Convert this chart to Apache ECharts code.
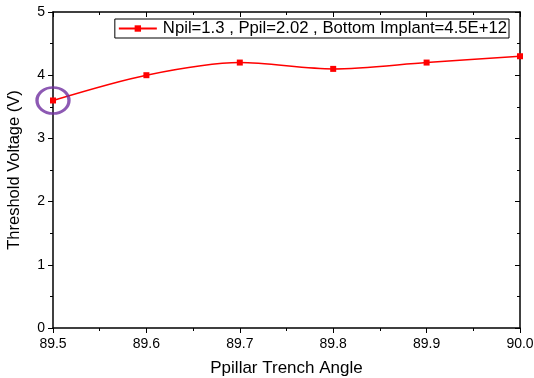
<!DOCTYPE html>
<html>
<head>
<meta charset="utf-8">
<script src="https://cdn.jsdelivr.net/npm/echarts@6/dist/echarts.min.js"></script>
<style>
  html, body { margin: 0; padding: 0; background: #fff; }
  #chart { width: 534px; height: 378px; }
</style>
</head>
<body>
<div id="chart"></div>
<script>
var angles = [89.5, 89.6, 89.7, 89.8, 89.9, 90.0];
var voltages = [3.6, 4.0, 4.2, 4.1, 4.2, 4.3];
var seriesName = 'Npil=1.3 , Ppil=2.02 , Bottom Implant=4.5E+12';
var highlightPoint = [89.5, 3.6];

var dom = document.getElementById('chart');
var myChart = echarts.init(dom, null, { renderer: 'canvas' });

var font = 'Liberation Sans, Arial, sans-serif';

var option = {
  animation: false,
  textStyle: { fontFamily: font },
  grid: { left: 53, right: 14, top: 12, bottom: 50, outerBoundsMode: 'none', containLabel: false },
  legend: {
    data: [seriesName],
    top: 19,
    right: 25,
    itemWidth: 38,
    itemHeight: 8,
    itemGap: 6,
    padding: [1, 2, 1, 3],
    borderColor: '#000',
    borderWidth: 1,
    textStyle: { fontFamily: font, fontSize: 16.7, color: '#000', padding: [0, 0, 0, 1] }
  },
  xAxis: [
    {
      type: 'value',
      min: 89.5,
      max: 90.0,
      interval: 0.1,
      name: 'Ppillar Trench Angle',
      nameLocation: 'middle',
      nameGap: 32,
      nameTextStyle: { fontSize: 17, color: '#000' },
      axisLine: { onZero: false, lineStyle: { color: '#000', width: 1.5 } },
      axisTick: { inside: false, length: 5, lineStyle: { color: '#000' } },
      minorTick: { show: true, splitNumber: 2, length: 3, lineStyle: { color: '#000' } },
      axisLabel: {
        color: '#000', fontSize: 14, margin: 9,
        formatter: function (v) { return v.toFixed(1); }
      },
      splitLine: { show: false }
    },
    {
      type: 'value',
      position: 'top',
      min: 89.5,
      max: 90.0,
      interval: 0.1,
      axisLine: { onZero: false, lineStyle: { color: '#000', width: 1.5 } },
      axisTick: { inside: true, length: 5, lineStyle: { color: '#000' } },
      minorTick: { show: true, splitNumber: 2, length: 3, lineStyle: { color: '#000' } },
      axisLabel: { show: false },
      splitLine: { show: false }
    }
  ],
  yAxis: [
    {
      type: 'value',
      min: 0,
      max: 5,
      interval: 1,
      name: 'Threshold Voltage (V)',
      nameLocation: 'middle',
      nameGap: 30,
      nameTextStyle: { fontSize: 16.5, color: '#000' },
      axisLine: { show: true, onZero: false, lineStyle: { color: '#000', width: 1.5 } },
      axisTick: { show: true, inside: false, length: 5, lineStyle: { color: '#000' } },
      minorTick: { show: true, splitNumber: 2, length: 3, lineStyle: { color: '#000' } },
      axisLabel: { color: '#000', fontSize: 14, margin: 8 },
      splitLine: { show: false }
    },
    {
      type: 'value',
      position: 'right',
      min: 0,
      max: 5,
      interval: 1,
      axisLine: { show: true, onZero: false, lineStyle: { color: '#000', width: 1.5 } },
      axisTick: { show: true, inside: true, length: 5, lineStyle: { color: '#000' } },
      minorTick: { show: true, splitNumber: 2, length: 3, lineStyle: { color: '#000' } },
      axisLabel: { show: false },
      splitLine: { show: false }
    }
  ],
  series: [
    {
      name: seriesName,
      type: 'line',
      smooth: 0.3,
      symbol: 'rect',
      symbolSize: 6,
      clip: false,
      color: '#ff0000',
      lineStyle: { color: '#ff0000', width: 1.5 },
      itemStyle: { color: '#ff0000' },
      data: angles.map(function (a, i) { return [a, voltages[i]]; }),
      z: 3
    },
    {
      name: 'highlight',
      type: 'scatter',
      symbol: 'circle',
      symbolSize: [32, 26],
      clip: false,
      itemStyle: { color: 'rgba(0,0,0,0)', borderColor: '#7030a0', borderWidth: 3 },
      data: [highlightPoint],
      z: 4
    }
  ]
};

if (option && typeof option === 'object') {
  myChart.setOption(option);
}

window.addEventListener('resize', myChart.resize);
</script>
</body>
</html>
